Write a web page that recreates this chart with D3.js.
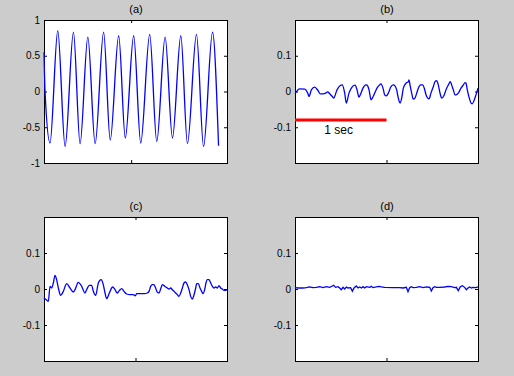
<!DOCTYPE html>
<html><head><meta charset="utf-8">
<script src="https://cdn.jsdelivr.net/npm/d3@7"></script>
<style>
html,body{margin:0;padding:0;background:#cccccc;}
svg{display:block;}
</style></head><body>
<svg id="chart" width="514" height="376"></svg>
<script>
// ---------- data ----------
const titles = ["(a)", "(b)", "(c)", "(d)"];

const timeA  = [0, 0.012, 0.069, 0.158, 0.242, 0.338, 0.414, 0.503, 0.587, 0.684, 0.760, 0.857, 0.933, 1.029, 1.110, 1.213, 1.294, 1.390, 1.474, 1.570, 1.646, 1.750, 1.831, 1.934, 2.003];
const valueA = [0.55, 0.0, -0.72, 0.85, -0.77, 0.83, -0.73, 0.76, -0.73, 0.83, -0.68, 0.78, -0.65, 0.78, -0.72, 0.80, -0.70, 0.76, -0.65, 0.78, -0.73, 0.80, -0.77, 0.83, -0.76];

const timeB  = [0, 0.051, 0.106, 0.142, 0.153, 0.179, 0.215, 0.251, 0.277, 0.306, 0.335, 0.357, 0.379, 0.408, 0.423, 0.459, 0.495, 0.517, 0.543, 0.561, 0.590, 0.616, 0.641, 0.656, 0.678, 0.699, 0.714, 0.743, 0.772, 0.787, 0.809, 0.831, 0.845, 0.871, 0.896, 0.925, 0.940, 0.962, 0.980, 0.998, 1.020, 1.049, 1.075, 1.093, 1.111, 1.129, 1.148, 1.166, 1.184, 1.213, 1.239, 1.246, 1.257, 1.275, 1.293, 1.311, 1.330, 1.348, 1.373, 1.395, 1.413, 1.432, 1.450, 1.465, 1.486, 1.512, 1.530, 1.548, 1.566, 1.585, 1.603, 1.632, 1.650, 1.676, 1.698, 1.712, 1.730, 1.749, 1.760, 1.785, 1.814, 1.840, 1.858, 1.869, 1.883, 1.905, 1.924, 1.938, 1.960, 1.978, 2.0];
const valueB = [-0.0065, 0.0074, 0.0065, -0.0065, -0.0139, 0.0046, 0.012, 0.0028, -0.0065, -0.0065, -0.0046, -0.0009, -0.0065, -0.0139, -0.0185, 0.0046, 0.0167, 0.0185, -0.0046, -0.0324, -0.0046, 0.0093, 0.0167, 0.0176, 0.0046, -0.0157, -0.0093, 0.0093, 0.0185, 0.0176, 0.0046, -0.0231, -0.0185, -0.0046, 0.0093, 0.0185, 0.0213, 0.0093, -0.0093, -0.012, -0.0046, 0.0139, 0.0185, 0.0157, 0.0046, -0.0185, -0.0324, -0.0185, 0.0093, 0.0231, 0.0278, 0.0324, 0.0185, -0.0046, -0.0213, -0.0185, -0.0046, 0.0093, 0.0185, 0.0185, 0.0093, -0.0093, -0.0185, -0.0204, -0.0046, 0.0139, 0.0278, 0.0306, 0.0185, -0.0046, -0.0185, -0.0093, 0.0046, 0.0185, 0.0278, 0.0185, 0.0046, -0.0093, -0.0093, -0.0046, 0.0093, 0.0185, 0.025, 0.0231, 0.0046, -0.0185, -0.0324, -0.0343, -0.0231, -0.0093, 0.0093];

const timeC  = [0, 0.029, 0.047, 0.066, 0.084, 0.102, 0.120, 0.138, 0.157, 0.182, 0.211, 0.248, 0.284, 0.321, 0.339, 0.375, 0.412, 0.448, 0.466, 0.495, 0.521, 0.539, 0.565, 0.594, 0.623, 0.648, 0.667, 0.685, 0.714, 0.750, 0.776, 0.801, 0.823, 0.849, 0.874, 0.903, 0.940, 0.976, 0.998, 1.013, 1.056, 1.093, 1.129, 1.148, 1.166, 1.184, 1.202, 1.220, 1.239, 1.257, 1.275, 1.293, 1.311, 1.330, 1.348, 1.366, 1.384, 1.403, 1.421, 1.439, 1.457, 1.475, 1.494, 1.512, 1.530, 1.548, 1.566, 1.585, 1.603, 1.621, 1.639, 1.658, 1.668, 1.687, 1.705, 1.723, 1.738, 1.756, 1.770, 1.785, 1.803, 1.822, 1.840, 1.858, 1.876, 1.894, 1.913, 1.931, 1.949, 1.967, 1.985, 2.0];
const valueC = [-0.025, -0.0306, -0.0343, 0.0074, 0.0028, 0.0167, 0.038, 0.0259, 0.0028, -0.0176, -0.0065, 0.0148, 0.0028, -0.0083, -0.0019, 0.0185, 0.0074, -0.0111, -0.0019, 0.0102, 0.0102, -0.0065, -0.0176, 0.0167, 0.0259, 0.012, -0.0111, -0.0269, -0.0111, 0.0056, -0.0019, -0.0111, -0.0046, 0.0009, -0.0065, -0.0139, -0.0157, -0.0157, -0.019, -0.013, -0.013, -0.013, -0.0111, -0.0065, 0.0074, 0.012, 0.012, 0.0028, -0.0093, -0.0111, 0.0, 0.012, 0.0093, 0.0056, 0.0028, 0.0, 0.0028, -0.0019, -0.0065, -0.0111, -0.0157, -0.0204, -0.0111, 0.0028, 0.0167, 0.0194, 0.012, -0.0019, -0.0204, -0.0278, -0.0167, 0.0028, 0.0148, 0.0148, 0.0028, -0.0065, -0.013, -0.0019, 0.0167, 0.026, 0.026, 0.0167, 0.0074, 0.0028, 0.0056, 0.0028, 0.0093, 0.0028, 0.0, -0.0037, -0.0037, -0.0019];

const timeD  = [0, 0.033, 0.087, 0.124, 0.160, 0.197, 0.233, 0.270, 0.306, 0.342, 0.379, 0.408, 0.423, 0.444, 0.470, 0.488, 0.506, 0.525, 0.543, 0.561, 0.579, 0.608, 0.627, 0.645, 0.670, 0.689, 0.707, 0.725, 0.743, 0.761, 0.780, 0.816, 0.834, 0.852, 0.889, 0.918, 0.944, 0.980, 1.071, 1.144, 1.180, 1.217, 1.235, 1.253, 1.271, 1.290, 1.326, 1.362, 1.399, 1.435, 1.472, 1.490, 1.508, 1.526, 1.545, 1.581, 1.636, 1.672, 1.709, 1.745, 1.763, 1.785, 1.807, 1.829, 1.854, 1.873, 1.891, 1.909, 1.927, 1.945, 1.975, 2.0];
const valueD = [0.0037, 0.0028, 0.0028, 0.0037, 0.0056, 0.0037, 0.0046, 0.0065, 0.0037, 0.0065, 0.0046, 0.0083, 0.0102, 0.0046, 0.0065, 0.0028, -0.0019, 0.0046, 0.0, 0.0056, 0.0028, 0.0037, -0.0065, 0.0028, 0.0083, 0.0028, 0.0056, 0.0028, 0.0065, 0.0028, 0.0065, 0.0046, 0.0074, 0.0037, 0.0056, 0.0074, 0.0056, 0.0046, 0.0037, 0.0037, 0.0028, 0.0046, -0.0074, 0.0037, 0.0065, 0.0037, 0.0046, 0.0065, 0.0037, 0.0056, 0.0046, -0.0056, 0.0037, 0.0065, 0.0046, 0.0046, 0.0056, 0.0074, 0.0065, 0.0037, 0.0046, -0.0046, 0.0065, 0.0093, 0.0046, -0.0019, 0.0028, 0.0056, 0.0028, 0.0046, 0.0037, 0.0056];

const yTicksA = [-1, -0.5, 0, 0.5, 1];
const yTickLabelsA = ["-1", "-0.5", "0", "0.5", "1"];
const yTicksSmall = [-0.1, 0, 0.1];
const yTickLabelsSmall = ["-0.1", "0", "0.1"];
const xTicks = [1];

const scaleBarTime = [0, 1];
const scaleBarValue = -0.08;
const scaleBarLabel = "1 sec";

// ---------- layout ----------
const FONT = '"Liberation Sans", Arial, Helvetica, sans-serif';
const panels = [
  {left: 44,  top: 20,  w: 183, h: 143, xMax: 2.1, yDom: [-1, 1],     t: timeA, v: valueA, yt: yTicksA, yl: yTickLabelsA, curve: d3.curveMonotoneX},
  {left: 295, top: 20,  w: 183, h: 143, xMax: 2,   yDom: [-0.2, 0.2], t: timeB, v: valueB, yt: yTicksSmall, yl: yTickLabelsSmall, curve: d3.curveMonotoneX},
  {left: 44,  top: 217, w: 183, h: 144, xMax: 2,   yDom: [-0.2, 0.2], t: timeC, v: valueC, yt: yTicksSmall, yl: yTickLabelsSmall, curve: d3.curveMonotoneX},
  {left: 295, top: 217, w: 183, h: 144, xMax: 2,   yDom: [-0.2, 0.2], t: timeD, v: valueD, yt: yTicksSmall, yl: yTickLabelsSmall, curve: d3.curveLinear}
];

const svg = d3.select("#chart");
svg.append("rect").attr("width", 514).attr("height", 376).attr("fill", "#cccccc");

panels.forEach((p, i) => {
  const g = svg.append("g");
  const x = d3.scaleLinear().domain([0, p.xMax]).range([p.left, p.left + p.w]);
  const y = d3.scaleLinear().domain(p.yDom).range([p.top + p.h, p.top]);

  g.append("rect").attr("x", p.left + 0.5).attr("y", p.top + 0.5)
    .attr("width", p.w).attr("height", p.h).attr("fill", "#ffffff");

  const fmt = v => p.yl[p.yt.indexOf(v)];
  const styleAxis = sel => {
    sel.select(".domain").remove();
    sel.selectAll("line").attr("stroke", "#000");
    sel.selectAll("text").attr("font-family", FONT).attr("font-size", 10).attr("fill", "#000");
  };
  g.append("g").attr("transform", `translate(${p.left},0)`)
    .call(d3.axisLeft(y).tickValues(p.yt).tickFormat(fmt).tickSize(-3).tickPadding(4)).call(styleAxis);
  g.append("g").attr("transform", `translate(${p.left + p.w},0)`)
    .call(d3.axisRight(y).tickValues(p.yt).tickFormat("").tickSize(-3)).call(styleAxis);
  g.append("g").attr("transform", `translate(0,${p.top + p.h})`)
    .call(d3.axisBottom(x).tickValues(xTicks).tickFormat("").tickSize(-3)).call(styleAxis);
  g.append("g").attr("transform", `translate(0,${p.top})`)
    .call(d3.axisTop(x).tickValues(xTicks).tickFormat("").tickSize(-3)).call(styleAxis);

  g.append("rect").attr("x", p.left + 0.5).attr("y", p.top + 0.5)
    .attr("width", p.w).attr("height", p.h).attr("fill", "none").attr("stroke", "#000").attr("stroke-width", 1);

  const line = d3.line().x(d => x(d[0])).y(d => y(d[1])).curve(p.curve);
  g.append("path").datum(d3.zip(p.t, p.v)).attr("d", line)
    .attr("fill", "none").attr("stroke", "#0000ff").attr("stroke-width", 1.3);

  g.append("text").attr("x", p.left + 0.5 + p.w / 2).attr("y", p.top - 7.5)
    .attr("text-anchor", "middle").attr("font-family", FONT).attr("font-size", 11).attr("fill", "#000")
    .text(titles[i]);

  if (i === 1) {
    g.append("line")
      .attr("x1", x(scaleBarTime[0])).attr("x2", x(scaleBarTime[1]))
      .attr("y1", y(scaleBarValue)).attr("y2", y(scaleBarValue))
      .attr("stroke", "#ff0000").attr("stroke-width", 3);
    g.append("text").attr("x", x(0.32)).attr("y", y(-0.12))
      .attr("font-family", FONT).attr("font-size", 12).attr("fill", "#000")
      .text(scaleBarLabel);
  }
});
</script>
</body></html>
